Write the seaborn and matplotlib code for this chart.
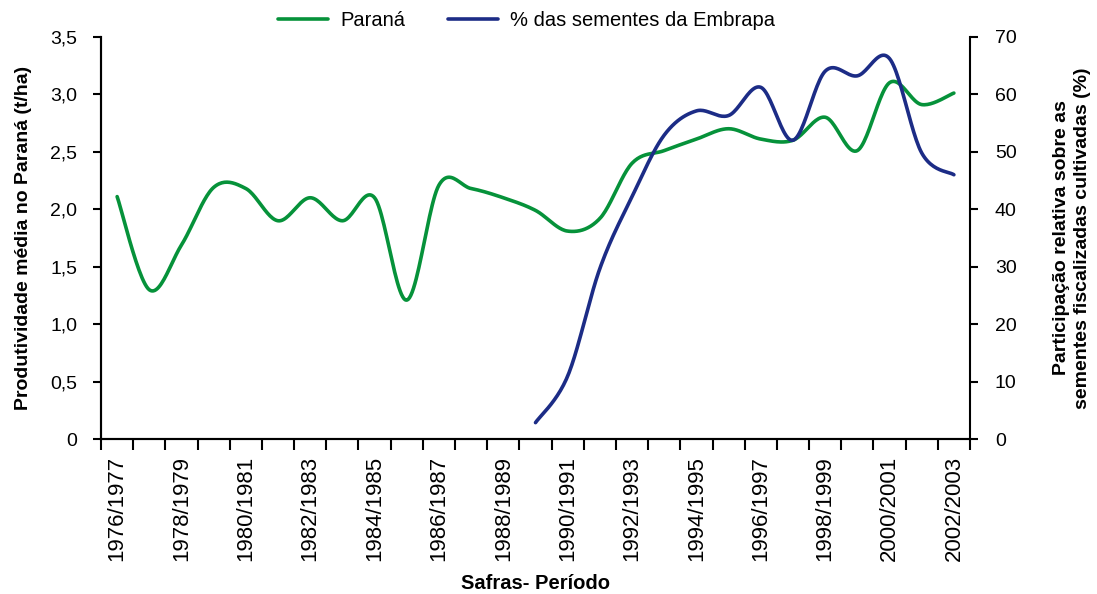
import numpy as np
import pandas as pd
import seaborn as sns
import matplotlib.pyplot as plt
from matplotlib.lines import Line2D
from matplotlib.ticker import FuncFormatter

# safras 1976/1977 ... 2002/2003
safras = [f"{y}/{y + 1}" for y in range(1976, 2003)]

# produtividade media no Parana (t/ha)
parana = [2.11, 1.30, 1.69, 2.19, 2.18, 1.90, 2.10, 1.90, 2.10, 1.21,
          2.21, 2.18, 2.10, 1.99, 1.81, 1.92, 2.40, 2.51, 2.61, 2.70,
          2.61, 2.60, 2.80, 2.51, 3.10, 2.91, 3.01]

# % das sementes da Embrapa (starts 1989/1990)
embrapa_start = "1989/1990"
embrapa = [2.9, 11.0, 29.7, 42.2, 52.9, 57.1, 56.3, 61.2, 52.0, 64.0,
           63.2, 66.2, 49.8, 46.0]

GREEN = "#06923A"
BLUE = "#1C2C86"


def smooth(x, y, n=24):
    # catmull-rom, the same kind of smoothing the spreadsheet line uses
    x = np.asarray(x, float)
    y = np.asarray(y, float)
    px = np.concatenate([[x[0]], x, [x[-1]]])
    py = np.concatenate([[y[0]], y, [y[-1]]])
    xs, ys = [], []
    t = np.linspace(0, 1, n, endpoint=False)
    for i in range(1, len(px) - 2):
        for p, out in ((px, xs), (py, ys)):
            p0, p1, p2, p3 = p[i - 1], p[i], p[i + 1], p[i + 2]
            out.extend(0.5 * ((2 * p1) + (-p0 + p2) * t
                              + (2 * p0 - 5 * p1 + 4 * p2 - p3) * t ** 2
                              + (-p0 + 3 * p1 - 3 * p2 + p3) * t ** 3))
    xs.append(x[-1])
    ys.append(y[-1])
    return np.array(xs), np.array(ys)


sns.set_style("ticks")
plt.rcParams['font.family'] = ['Liberation Sans', 'DejaVu Sans']
plt.rcParams.update({"text.color": "black", "axes.labelcolor": "black",
                     "xtick.color": "black", "ytick.color": "black"})

fig = plt.figure(figsize=(10.97, 5.94), dpi=100)
ax = fig.add_axes([0.0921, 0.2604, 0.7921, 0.6778])
ax2 = ax.twinx()

pos = np.arange(len(safras))
gx, gy = smooth(pos, parana)
sns.lineplot(x=gx, y=gy, ax=ax, color=GREEN, linewidth=2.6, sort=False, estimator=None)

start = safras.index(embrapa_start)
bx, by = smooth(pos[start:start + len(embrapa)], embrapa)
sns.lineplot(x=bx, y=by, ax=ax2, color=BLUE, linewidth=2.6, sort=False, estimator=None)

ax.set_xlim(-0.5, len(safras) - 0.5)
ax.set_ylim(0, 3.5)
ax2.set_ylim(0, 70)

ax.set_yticks(np.arange(0, 3.51, 0.5))
ax.yaxis.set_major_formatter(FuncFormatter(
    lambda v, p: "0" if v == 0 else f"{v:.1f}".replace(".", ",")))
ax2.set_yticks(np.arange(0, 71, 10))

ax.set_xticks(pos[::2])
ax.set_xticklabels(safras[::2], rotation=90)
ax.set_xticks(np.arange(-0.5, len(safras), 1), minor=True)
ax.tick_params(axis="x", which="major", length=0, pad=12, labelsize=16)
ax.tick_params(axis="x", which="minor", length=8, width=1.5, direction="out")
ax.tick_params(axis="y", length=6, width=1.5, pad=11, labelsize=14)
ax2.tick_params(axis="y", length=6, width=1.5, pad=12, labelsize=14)

for a in (ax, ax2):
    a.spines["top"].set_visible(False)
    for s in ("left", "right", "bottom"):
        a.spines[s].set_linewidth(1.5)
        a.spines[s].set_color("black")
ax.spines["right"].set_visible(False)

ax.set_xlabel("Safras- Período", fontsize=14.5, fontweight="bold")
ax.xaxis.set_label_coords(0.5, -0.335)
ax.set_ylabel("Produtividade média no Paraná (t/ha)", fontsize=14, fontweight="bold", labelpad=13)
ax2.set_ylabel("Participação relativa sobre as\nsementes fiscalizadas cultivadas (%)",
               fontsize=14, fontweight="bold", labelpad=26, linespacing=1.3)

handles = [Line2D([], [], color=GREEN, linewidth=2.6),
           Line2D([], [], color=BLUE, linewidth=2.6)]
fig.legend(handles, ["Paraná", "% das sementes da Embrapa"], loc="center",
           bbox_to_anchor=(0.48, 0.965), ncol=2, frameon=False, fontsize=14.5,
           handlelength=2.5, handletextpad=0.6, columnspacing=2.1)

plt.savefig("out.png", dpi=100)
